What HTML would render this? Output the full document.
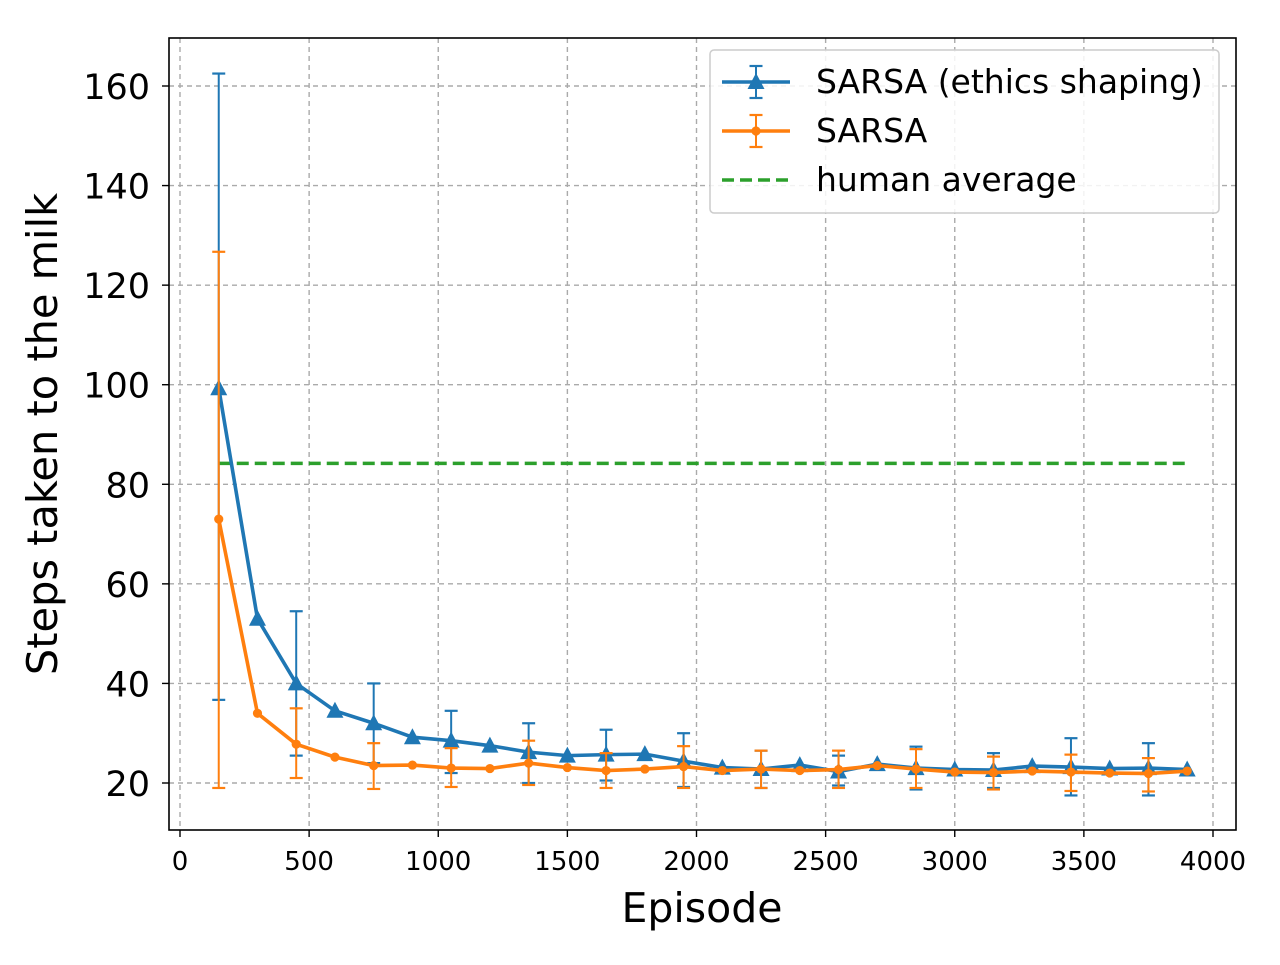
<!DOCTYPE html>
<html><head><meta charset="utf-8"><style>
body{margin:0;background:#fff}
svg{font-family:"DejaVu Sans",sans-serif}
</style></head><body>
<svg id="c" width="1280" height="960" xmlns="http://www.w3.org/2000/svg"></svg>
<script>
const episodes=[150,300,450,600,750,900,1050,1200,1350,1500,1650,1800,1950,2100,2250,2400,2550,2700,2850,3000,3150,3300,3450,3600,3750,3900];
const blueVals=[99.3,53,40,34.5,32,29.2,28.5,27.5,26.2,25.5,25.7,25.8,24.4,23.1,22.8,23.6,22.3,23.8,23.0,22.7,22.6,23.4,23.2,22.9,23.0,22.7];
const blueLow=[36.7,25.5,24,22,20,20.5,19.2,19,19.5,18.7,19,17.5,17.5];
const blueHigh=[162.5,54.5,40,34.5,32,30.7,30,26.5,25.5,27.3,26,29,28];
const orangeVals=[73,34,27.8,25.2,23.5,23.6,23,22.9,24,23.1,22.5,22.8,23.3,22.5,22.8,22.5,22.7,23.5,22.8,22.2,22.1,22.4,22.2,22.0,21.9,22.4];
const orangeLow=[19,21,18.8,19.2,19.6,19,19,19,19,19,18.7,18.4,18.3];
const orangeHigh=[126.7,35,28,27,28.5,26,27.4,26.5,26.5,26.8,25.3,25.7,25];
const humanAvg=84.2;
const xTicks=[0,500,1000,1500,2000,2500,3000,3500,4000];
const yTicks=[20,40,60,80,100,120,140,160];
const NS="http://www.w3.org/2000/svg",svg=document.getElementById('c');
const X=v=>180+v*(1033/4000), Y=v=>783-(v-20)*(697/140);
function el(t,a,p){const e=document.createElementNS(NS,t);for(const k in a)e.setAttribute(k,a[k]);(p||svg).appendChild(e);return e;}
const L=169,R=1236,T=38,B=830;
xTicks.forEach(t=>{
 const g=el('line',{x1:X(t),x2:X(t),y1:T,y2:B,stroke:'#aaa','stroke-width':1.4,'stroke-dasharray':'5,4'});
 
 el('line',{x1:X(t),x2:X(t),y1:B,y2:B+7,stroke:'#000','stroke-width':1.4});
 const tx=el('text',{x:X(t),y:B+40,'font-size':26,'text-anchor':'middle'});tx.textContent=t;
 
});
yTicks.forEach(t=>{
 const g=el('line',{x1:L,x2:R,y1:Y(t),y2:Y(t),stroke:'#aaa','stroke-width':1.4,'stroke-dasharray':'5,4'});
 
 el('line',{x1:L-7,x2:L,y1:Y(t),y2:Y(t),stroke:'#000','stroke-width':1.4});
 const tx=el('text',{x:L-19,y:Y(t)+13,'font-size':35,'text-anchor':'end'});tx.textContent=t;
 
});
const hl=el('line',{x1:X(150),x2:X(3900),y1:Y(humanAvg),y2:Y(humanAvg),stroke:'#2ca02c','stroke-width':3.5,'stroke-dasharray':'12,6'});

function series(vals,low,high,col,marker,name){
 const g=el('g',{});
 low.forEach((lo,i)=>{const x=X(episodes[i*2]);
  el('line',{x1:x,x2:x,y1:Y(lo),y2:Y(high[i]),stroke:col,'stroke-width':2},g);
  el('line',{x1:x-6.5,x2:x+6.5,y1:Y(lo),y2:Y(lo),stroke:col,'stroke-width':2.2},g);
  el('line',{x1:x-6.5,x2:x+6.5,y1:Y(high[i]),y2:Y(high[i]),stroke:col,'stroke-width':2.2},g);});
 el('polyline',{points:vals.map((v,i)=>X(episodes[i])+','+Y(v)).join(' '),fill:'none',stroke:col,'stroke-width':3.6,'stroke-linejoin':'round'},g);
 vals.forEach((v,i)=>{const x=X(episodes[i]),y=Y(v);
  if(marker==='tri')el('polygon',{points:`${x},${y-9} ${x-8.5},${y+7} ${x+8.5},${y+7}`,fill:col},g);
  else el('circle',{cx:x,cy:y,r:4.6,fill:col},g);});
}
series(blueVals,blueLow,blueHigh,'#1f77b4','tri','series-sarsa-ethics');
series(orangeVals,orangeLow,orangeHigh,'#ff7f0e','dot','series-sarsa');
el('rect',{x:L,y:T,width:R-L,height:B-T,fill:'none',stroke:'#000','stroke-width':1.6});
</script>
<svg width="1280" height="960" style="position:absolute;left:0;top:0" xmlns="http://www.w3.org/2000/svg" font-family="DejaVu Sans, sans-serif">
<text x="702" y="922" font-size="41" text-anchor="middle">Episode</text>
<text transform="translate(57,434) rotate(-90)" font-size="41.5" text-anchor="middle">Steps taken to the milk</text>
<g>
<rect x="710" y="50" width="509" height="163" rx="4" fill="#fff" fill-opacity="0.85" stroke="#ccc" stroke-width="1.5"/>
<g>
<line x1="722" x2="790" y1="82" y2="82" stroke="#1f77b4" stroke-width="3.6"/>
<line x1="756" x2="756" y1="66" y2="98" stroke="#1f77b4" stroke-width="2"/>
<line x1="749.5" x2="762.5" y1="66" y2="66" stroke="#1f77b4" stroke-width="2.2"/>
<line x1="749.5" x2="762.5" y1="98" y2="98" stroke="#1f77b4" stroke-width="2.2"/>
<polygon points="756,73 747.5,89 764.5,89" fill="#1f77b4"/>
<text x="816" y="93" font-size="33">SARSA (ethics shaping)</text></g>
<g>
<line x1="722" x2="790" y1="131" y2="131" stroke="#ff7f0e" stroke-width="3.6"/>
<line x1="756" x2="756" y1="115" y2="147" stroke="#ff7f0e" stroke-width="2"/>
<line x1="749.5" x2="762.5" y1="115" y2="115" stroke="#ff7f0e" stroke-width="2.2"/>
<line x1="749.5" x2="762.5" y1="147" y2="147" stroke="#ff7f0e" stroke-width="2.2"/>
<circle cx="756" cy="131" r="4.6" fill="#ff7f0e"/>
<text x="816" y="142" font-size="33">SARSA</text></g>
<g>
<line x1="722" x2="790" y1="180" y2="180" stroke="#2ca02c" stroke-width="3.5" stroke-dasharray="12,6"/>
<text x="816" y="191" font-size="33">human average</text></g>
</g>
</svg>
</body></html>
